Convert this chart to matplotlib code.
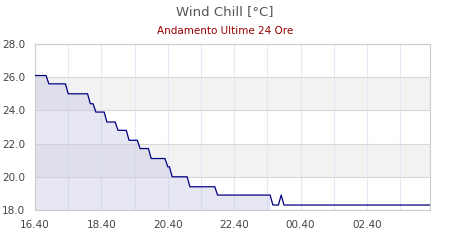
import numpy as np
import pandas as pd
import matplotlib
matplotlib.use("Agg")
import matplotlib.pyplot as plt

# readings (clock time, wind chill in C)
times = ["16:40", "17:00", "17:05", "17:35", "17:40", "18:15", "18:20", "18:25",
         "18:30", "18:45", "18:50", "19:05", "19:10", "19:25", "19:30", "19:45",
         "19:50", "20:05", "20:10", "20:35", "20:40", "20:43", "20:48", "21:15",
         "21:20", "22:05", "22:10", "23:45", "23:50", "00:00", "00:05", "00:10",
         "04:34"]
chill = [26.1, 26.1, 25.6, 25.6, 25.0, 25.0, 24.4, 24.4,
         23.9, 23.9, 23.3, 23.3, 22.8, 22.8, 22.2, 22.2,
         21.7, 21.7, 21.1, 21.1, 20.6, 20.6, 20.0, 20.0,
         19.4, 19.4, 18.9, 18.9, 18.3, 18.3, 18.9, 18.3,
         18.3]
fill_until = "23:45"
y_ticks = [18.0, 20.0, 22.0, 24.0, 26.0, 28.0]

# build datetimes, rolling over midnight
stamps = []
day = pd.Timestamp("2020-01-01")
prev = None
for t in times:
    ts = pd.Timestamp(day.strftime("%Y-%m-%d") + " " + t)
    if prev is not None and ts < prev:
        day = day + pd.Timedelta(days=1)
        ts = ts + pd.Timedelta(days=1)
    stamps.append(ts)
    prev = ts
stamps = pd.to_datetime(stamps)
chill = np.array(chill)

fig = plt.figure(figsize=(4.5, 2.4), dpi=100)
ax = fig.add_axes([35/450, 30/240, 395/450, 166/240])

ax.set_xlim(stamps[0], stamps[-1])
ax.set_ylim(18, 28)

# alternating bands
for lo in (20, 24):
    ax.axhspan(lo, lo + 2, color="#f2f2f2", zorder=0, lw=0)

ax.grid(axis="y", color="#d8d8d8", lw=0.8, zorder=1)
# hourly grid, labels every 2 hours at xx:40
hours = pd.date_range(stamps[0], stamps[-1], freq="h")
ax.set_xticks(hours[::2])
ax.set_xticklabels([h.strftime("%H.%M") for h in hours[::2]])
ax.set_xticks(hours, minor=True)
ax.grid(axis="x", which="both", color="#e6e6f6", lw=0.8, zorder=1)
ax.tick_params(which="both", length=0, labelsize=7.5, colors="#444444")
ax.tick_params(axis="x", pad=7)
ax.tick_params(axis="y", pad=7)
ax.set_yticks(y_ticks)
ax.set_yticklabels(["%.1f" % v for v in y_ticks])

mask = stamps <= pd.Timestamp(stamps[0].strftime("%Y-%m-%d") + " " + fill_until)
ax.fill_between(stamps[mask], chill[mask], 18, color=(195/255, 195/255, 226/255),
                alpha=0.385, lw=0, zorder=2)
ax.plot(stamps, chill, color="#000080", lw=0.9, zorder=3)

for s in ax.spines.values():
    s.set_color("#cccccc")
    s.set_linewidth(0.8)

fig.text(0.5, 1 - 12/240, "Wind Chill [°C]", ha="center", va="center",
         fontsize=9.5, color="#555555")
fig.text(0.5, 1 - 31/240, "Andamento Ultime 24 Ore", ha="center", va="center",
         fontsize=7.5, color="#990000")

fig.savefig("out.png", dpi=100)
